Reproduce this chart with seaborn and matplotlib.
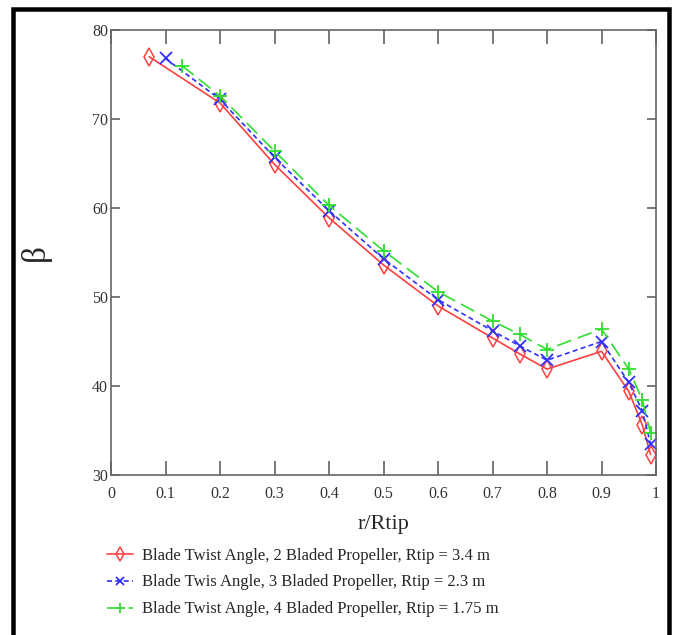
import pandas as pd
import matplotlib.pyplot as plt
import seaborn as sns
from matplotlib.lines import Line2D

# r/Rtip stations and twist angle (deg) for each propeller
r_2blade = [0.07, 0.2, 0.3, 0.4, 0.5, 0.6, 0.7, 0.75, 0.8, 0.9, 0.95, 0.975, 0.99]
beta_2blade = [77.0, 71.8, 64.9, 58.9, 53.6, 49.0, 45.4, 43.6, 41.9, 43.9, 39.4, 35.6, 32.3]

r_3blade = [0.1, 0.2, 0.3, 0.4, 0.5, 0.6, 0.7, 0.75, 0.8, 0.9, 0.95, 0.975, 0.99]
beta_3blade = [76.8, 72.2, 65.7, 59.7, 54.3, 49.7, 46.2, 44.5, 42.9, 45.0, 40.4, 37.2, 33.5]

r_4blade = [0.13, 0.2, 0.3, 0.4, 0.5, 0.6, 0.7, 0.75, 0.8, 0.9, 0.95, 0.975, 0.99]
beta_4blade = [76.0, 72.6, 66.4, 60.3, 55.2, 50.6, 47.3, 45.8, 44.1, 46.4, 41.9, 38.4, 34.7]

labels = ["Blade Twist Angle, 2 Bladed Propeller, Rtip = 3.4 m",
          "Blade Twis Angle, 3 Bladed Propeller, Rtip = 2.3 m",
          "Blade Twist Angle, 4 Bladed Propeller, Rtip = 1.75 m"]

x_ticks = [0, 0.1, 0.2, 0.3, 0.4, 0.5, 0.6, 0.7, 0.8, 0.9, 1]
x_ticklabels = ["0", "0.1", "0.2", "0.3", "0.4", "0.5", "0.6", "0.7", "0.8", "0.9", "1"]
y_ticks = [30, 40, 50, 60, 70, 80]

sns.set_style("white")
plt.rcParams['font.family'] = ['Liberation Serif', 'DejaVu Serif']

fig = plt.figure(figsize=(6.76, 6.35), dpi=100)
ax = fig.add_axes([111 / 676, 1 - 475 / 635, (656 - 111) / 676, (475 - 30) / 635])

styles = [
    dict(color='#ff4040', linestyle='-', marker='d', markersize=9, markerfacecolor='none',
         markeredgecolor='#ff4040', markeredgewidth=1.1),
    dict(color='#3030ff', linestyle=(0, (3, 2)), marker='x', markersize=8.5,
         markeredgecolor='#3030ff', markeredgewidth=1.3),
    dict(color='#30dd30', linestyle=(0, (9, 4)), marker='+', markersize=10,
         markeredgecolor='#30dd30', markeredgewidth=1.3),
]
series = [(r_2blade, beta_2blade), (r_3blade, beta_3blade), (r_4blade, beta_4blade)]

for (xs, ys), st, lab in zip(series, styles, labels):
    df = pd.DataFrame({'r': xs, 'beta': ys})
    sns.lineplot(data=df, x='r', y='beta', ax=ax, linewidth=1.2, label=lab, **st)

ax.set_xlim(0, 1)
ax.set_ylim(30, 80)
ax.set_xticks(x_ticks)
ax.set_xticklabels(x_ticklabels)
ax.set_yticks(y_ticks)

for s in ax.spines.values():
    s.set_color('#666666')
    s.set_linewidth(1.2)

ax.tick_params(axis='x', direction='in', length=10, width=1.1, color='#555555',
               top=True, bottom=True, labelsize=11.5, pad=8, labelcolor='#333333')
ax.tick_params(axis='y', direction='in', length=6.5, width=1.1, color='#555555',
               left=True, right=True, labelsize=11.5, pad=2, labelcolor='#333333')

ax.set_xlabel("r/Rtip", fontsize=16, labelpad=9)
ax.set_ylabel("β", fontsize=24, labelpad=30)

ax.get_legend().remove()
handles, labs = ax.get_legend_handles_labels()
fig.legend(handles, labs, loc='upper left', bbox_to_anchor=(100 / 676, 1 - 541 / 635),
           frameon=False, fontsize=12, handlelength=1.6, handletextpad=0.5,
           labelspacing=0.65, borderaxespad=0, markerscale=0.75)

# black frame around the picture (open at the bottom)
lw = 4.5 * 72 / 100
x0, x1, yt = 13 / 676, 669 / 676, 1 - 8.5 / 635
fig.add_artist(Line2D([x0, x0, x1, x1], [0, yt, yt, 0], color='black', linewidth=lw,
                      solid_joinstyle='miter', transform=fig.transFigure))

plt.savefig('out.png', dpi=100)
